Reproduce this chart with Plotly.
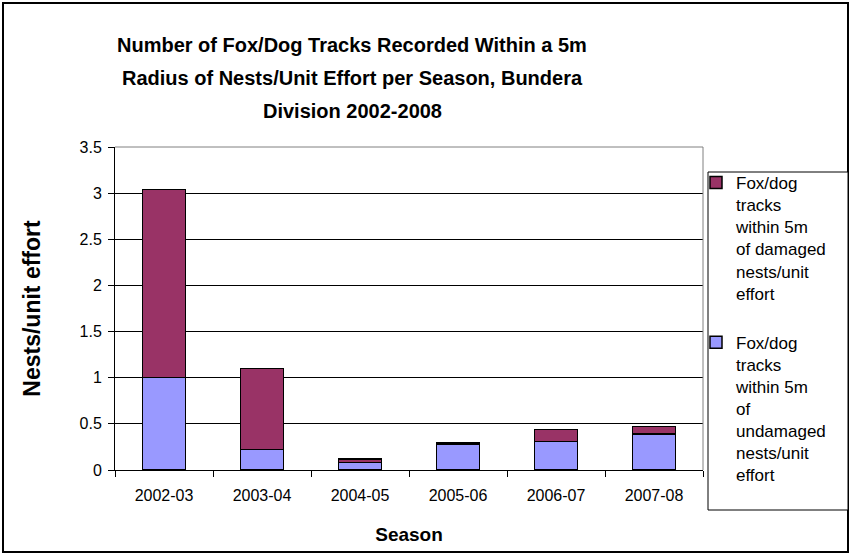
import plotly.graph_objects as go

seasons = ["2002-03", "2003-04", "2004-05", "2005-06", "2006-07", "2007-08"]
undamaged = [1.00, 0.22, 0.08, 0.28, 0.31, 0.39]
damaged = [2.04, 0.88, 0.04, 0.02, 0.13, 0.08]

name_damaged = "Fox/dog<br>tracks<br>within 5m<br>of damaged<br>nests/unit<br>effort"
name_undamaged = "Fox/dog<br>tracks<br>within 5m<br>of<br>undamaged<br>nests/unit<br>effort"
title_lines = [
    "Number of Fox/Dog Tracks Recorded Within a 5m",
    "Radius of Nests/Unit Effort per Season, Bundera",
    "Division 2002-2008",
]
y_ticks = [0, 0.5, 1, 1.5, 2, 2.5, 3, 3.5]
y_tick_labels = ["0", "0.5", "1", "1.5", "2", "2.5", "3", "3.5"]

W, H = 851, 555
L, R, T, B = 115, 148, 147, 85
pw, ph = W - L - R, H - T - B

def px(x):
    return (x - L) / pw

def py(y):
    return (H - B - y) / ph

FONT = "Liberation Sans, Arial, sans-serif"

fig = go.Figure()
fig.add_trace(go.Bar(
    x=seasons, y=undamaged, name=name_undamaged,
    marker=dict(color="#9999FF", line=dict(color="black", width=1.5)),
    legendgroup="u", legendrank=2,
))
fig.add_trace(go.Bar(
    x=seasons, y=damaged, name=name_damaged,
    marker=dict(color="#993366", line=dict(color="black", width=1.5)),
    legendgroup="d", legendrank=1,
))

annotations = []
for i, line in enumerate(title_lines):
    annotations.append(dict(
        text="<b>" + line + "</b>", xref="paper", yref="paper",
        x=px(352), y=py(45 + 33 * i), xanchor="center", yanchor="middle",
        showarrow=False, font=dict(family=FONT, size=20, color="black"),
    ))

shapes = [
    dict(type="rect", xref="paper", yref="paper",
         x0=px(3), x1=px(848), y0=py(552), y1=py(3),
         line=dict(color="black", width=2), layer="below"),
    dict(type="line", xref="paper", yref="paper",
         x0=0, x1=1, y0=1, y1=1, line=dict(color="#808080", width=1)),
    dict(type="line", xref="paper", yref="paper",
         x0=1, x1=1, y0=0, y1=1, line=dict(color="#808080", width=1)),
    dict(type="rect", xref="paper", yref="paper",
         x0=px(708), x1=px(848), y0=py(510), y1=py(172),
         line=dict(color="black", width=1), fillcolor="white", layer="below"),
]

fig.update_layout(
    width=W, height=H,
    margin=dict(l=L, r=R, t=T, b=B, autoexpand=False),
    paper_bgcolor="white", plot_bgcolor="white",
    barmode="stack", bargap=0.56,
    font=dict(family=FONT, size=16, color="black"),
    showlegend=True,
    legend=dict(
        x=px(696), y=py(165), xanchor="left", yanchor="top",
        borderwidth=0, bgcolor="rgba(0,0,0,0)",
        traceorder="grouped", tracegroupgap=24, valign="top",
        font=dict(family=FONT, size=17, color="black"),
        itemwidth=30, maxheight=1000,
    ),
    xaxis=dict(
        type="category", showline=True, linecolor="black", linewidth=1,
        ticks="outside", ticklen=6, tickcolor="black", tickson="boundaries",
        showgrid=False, ticklabelstandoff=11,
        title=dict(text="<b>Season</b>", font=dict(family=FONT, size=19), standoff=24),
        tickfont=dict(family=FONT, size=16),
    ),
    yaxis=dict(
        range=[0, 3.5], tickvals=y_ticks, ticktext=y_tick_labels,
        showline=True, linecolor="black", linewidth=1,
        ticks="outside", ticklen=6, tickcolor="black",
        showgrid=True, gridcolor="black", gridwidth=1,
        zeroline=False, ticklabelstandoff=3,
        title=dict(text="<b>Nests/unit effort</b>", font=dict(family=FONT, size=23), standoff=32),
        tickfont=dict(family=FONT, size=16),
    ),
    annotations=annotations,
    shapes=shapes,
)

fig.write_html(
    "out.html",
    config={"displayModeBar": False},
    post_script="document.body.style.margin='0';",
)
